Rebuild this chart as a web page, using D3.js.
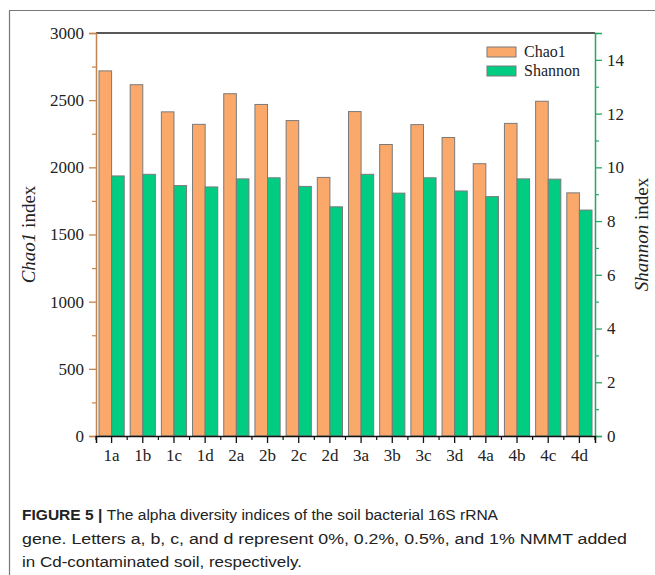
<!DOCTYPE html>
<html><head><meta charset="utf-8">
<script src="https://cdn.jsdelivr.net/npm/d3@7"></script>
<style>body{margin:0;background:#fff}svg{display:block}</style>
</head><body>
<script>
const categories = ["1a","1b","1c","1d","2a","2b","2c","2d","3a","3b","3c","3d","4a","4b","4c","4d"];
const chao1 = [2718,2615,2413,2320,2548,2468,2348,1925,2415,2170,2318,2222,2027,2327,2492,1810];
const shannon = [9.68,9.74,9.32,9.27,9.57,9.61,9.29,8.53,9.74,9.04,9.61,9.12,8.91,9.57,9.56,8.41];
const chaoTicks = [0,500,1000,1500,2000,2500,3000];
const shannonTicks = [0,2,4,6,8,10,12,14];
const seriesNames = ["Chao1","Shannon"];
const colors = {orange:"#FBA96B", green:"#00CC82", leftAxis:"#C3844F", rightAxis:"#27A862"};

const W=655,H=575;
const svg=d3.select("body").append("svg").attr("width",W).attr("height",H);
svg.append("path").attr("d","M9.5,575 V10.5 H655").attr("fill","none").attr("stroke","#777").attr("stroke-width",1.2);

const m={l:96,r:595,t:33,b:436};
const x=d3.scaleBand().domain(categories).range([m.l,m.r]).paddingInner(0).paddingOuter(0);
const yL=d3.scaleLinear().domain([0,3000]).range([m.b,m.t]);
const yR=d3.scaleLinear().domain([0,15]).range([m.b,m.t]);
const bw=12.6;

const g=svg.append("g");
categories.forEach((c,i)=>{
  const cx=x(c)+x.bandwidth()/2;
  g.append("rect").attr("x",cx-bw).attr("y",yL(chao1[i])).attr("width",bw).attr("height",yL(0)-yL(chao1[i]))
   .attr("fill",colors.orange).attr("stroke","#7a7a7a").attr("stroke-width",1);
  g.append("rect").attr("x",cx).attr("y",yR(shannon[i])).attr("width",bw).attr("height",yR(0)-yR(shannon[i]))
   .attr("fill",colors.green).attr("stroke","#7a7a7a").attr("stroke-width",1);
});

svg.append("line").attr("x1",m.l).attr("x2",m.r).attr("y1",m.t).attr("y2",m.t).attr("stroke","#222").attr("stroke-width",1.5);

const serif='"Liberation Serif","Times New Roman",serif';
const la=svg.append("g").attr("transform",`translate(${m.l},0)`).call(d3.axisLeft(yL).tickValues(chaoTicks).tickFormat(d3.format("d")).tickSize(7).tickPadding(5));
la.attr("font-family",serif).attr("font-size",17);
la.select(".domain").attr("stroke",colors.leftAxis).attr("stroke-width",1.5);
la.selectAll(".tick line").attr("stroke",colors.leftAxis).attr("stroke-width",1.3);
la.selectAll("text").attr("fill","#222");
const laMinor=svg.append("g").attr("transform",`translate(${m.l},0)`).call(d3.axisLeft(yL).tickValues(d3.range(250,3000,500)).tickSize(4).tickFormat(""));
laMinor.select(".domain").remove();
laMinor.selectAll(".tick line").attr("stroke",colors.leftAxis).attr("stroke-width",1.2);

const ra=svg.append("g").attr("transform",`translate(${m.r},0)`).call(d3.axisRight(yR).tickValues(shannonTicks).tickFormat(d3.format("d")).tickSize(7).tickPadding(5));
ra.attr("font-family",serif).attr("font-size",17);
ra.select(".domain").attr("stroke",colors.rightAxis).attr("stroke-width",1.5);
ra.selectAll(".tick line").attr("stroke",colors.rightAxis).attr("stroke-width",1.3);
ra.selectAll("text").attr("fill","#222");
const raMinor=svg.append("g").attr("transform",`translate(${m.r},0)`).call(d3.axisRight(yR).tickValues(d3.range(1,16,2)).tickSize(4).tickFormat(""));
raMinor.select(".domain").remove();
raMinor.selectAll(".tick line").attr("stroke",colors.rightAxis).attr("stroke-width",1.2);

const ba=svg.append("g").attr("transform",`translate(0,${m.b})`).call(d3.axisBottom(x).tickSize(7).tickPadding(6));
ba.attr("font-family",serif).attr("font-size",17);
ba.select(".domain").attr("stroke","#111").attr("stroke-width",1.5);
ba.selectAll(".tick line").attr("stroke","#111").attr("stroke-width",1.3);
ba.selectAll("text").attr("fill","#222");
const minorX=categories.map(c=>x(c)).concat([m.r]);
svg.append("g").selectAll("line").data(minorX).join("line")
  .attr("x1",d=>d).attr("x2",d=>d).attr("y1",m.b).attr("y2",m.b+4).attr("stroke","#111").attr("stroke-width",1.2);

const lt=svg.append("text").attr("transform",`translate(35,${(m.t+m.b)/2}) rotate(-90)`).attr("text-anchor","middle")
  .attr("font-family",serif).attr("font-size",19).attr("fill","#222");
lt.append("tspan").attr("font-style","italic").text("Chao1");
lt.append("tspan").text(" index");
const rt=svg.append("text").attr("transform",`translate(648,${(m.t+m.b)/2}) rotate(-90)`).attr("text-anchor","middle")
  .attr("font-family",serif).attr("font-size",19).attr("fill","#222");
rt.append("tspan").attr("font-style","italic").text("Shannon");
rt.append("tspan").text(" index");

const leg=svg.append("g");
[[colors.orange,seriesNames[0],47],[colors.green,seriesNames[1],66]].forEach(([c,t,yy])=>{
  leg.append("rect").attr("x",487).attr("y",yy).attr("width",29).attr("height",10).attr("fill",c).attr("stroke","#7a7a7a");
  leg.append("text").attr("x",524).attr("y",yy+10).attr("font-family",serif).attr("font-size",16).attr("fill","#222").text(t);
});

const sans='"Liberation Sans",Arial,sans-serif';
const cap=svg.append("g").attr("font-family",sans).attr("font-size",15.5).attr("fill","#222");
const l1=cap.append("text").attr("x",22).attr("y",520).attr("textLength",476).attr("lengthAdjust","spacingAndGlyphs");
l1.append("tspan").attr("font-weight","bold").text("FIGURE 5 | ");
l1.append("tspan").text("The alpha diversity indices of the soil bacterial 16S rRNA");
cap.append("text").attr("x",22).attr("y",544).attr("textLength",605).attr("lengthAdjust","spacingAndGlyphs")
  .text("gene. Letters a, b, c, and d represent 0%, 0.2%, 0.5%, and 1% NMMT added");
cap.append("text").attr("x",22).attr("y",567).attr("textLength",280).attr("lengthAdjust","spacingAndGlyphs")
  .text("in Cd-contaminated soil, respectively.");
</script>
</body></html>
